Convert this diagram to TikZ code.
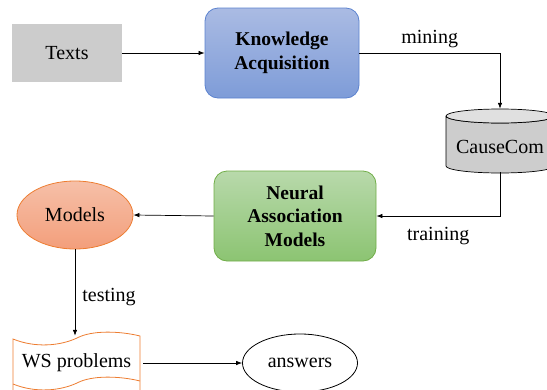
\documentclass[tikz,border=0pt]{standalone}
\usepackage{fontspec}
\newfontfamily\tnr{LiberationSerif}[Extension=.ttf, UprightFont=*-Regular, BoldFont=*-Bold]
\usetikzlibrary{shapes.geometric,arrows.meta}
\definecolor{kaTop}{HTML}{AABBE3}
\definecolor{kaBot}{HTML}{7E9CD8}
\definecolor{kaLine}{HTML}{5B82CF}
\definecolor{nmTop}{HTML}{B8D9AB}
\definecolor{nmBot}{HTML}{8CC472}
\definecolor{nmLine}{HTML}{70AD47}
\definecolor{mdTop}{HTML}{F6C0A8}
\definecolor{mdBot}{HTML}{F39E7B}
\definecolor{orLine}{HTML}{ED7D31}
\definecolor{grayFill}{HTML}{CCCCCC}
\definecolor{dbBody}{HTML}{CDCDCD}
\definecolor{dbTop}{HTML}{E0E0E0}
\tikzset{
  txt/.style={font=\tnr\fontsize{20}{23}\selectfont, text=black},
  btxt/.style={font=\tnr\fontsize{19.5}{23.5}\selectfont\bfseries, align=center, text=black},
  graybox/.style={txt, rectangle, fill=grayFill, minimum width=110pt, minimum height=58pt},
  procbox/.style={btxt, rectangle, rounded corners=13pt, line width=0.8pt},
  arr/.style={-{Latex[length=6pt,width=4.5pt]}, line width=0.7pt},
  conn/.style={line width=0.7pt},
  lbl/.style={txt, inner sep=2pt}
}
\begin{document}
\begin{tikzpicture}[x=1pt,y=-1pt]
\useasboundingbox (0,0) rectangle (547,389);
\clip (0,0) rectangle (547,389);
% nodes
\node[graybox] (texts) at (67,53) {Texts};
\node[procbox, draw=kaLine, top color=kaTop, bottom color=kaBot, minimum width=154pt, minimum height=90pt] (ka) at (282,53) {Knowledge\\Acquisition};
\node[procbox, draw=nmLine, top color=nmTop, bottom color=nmBot, minimum width=162pt, minimum height=90pt] (nam) at (295,216) {Neural\\Association\\Models};
\node[txt, ellipse, draw=orLine, line width=0.8pt, top color=mdTop, bottom color=mdBot, minimum width=116pt, minimum height=68pt, inner sep=0pt] (models) at (75,215) {Models};
\node[txt, ellipse, draw=black, line width=0.8pt, minimum width=115pt, minimum height=58pt, inner sep=0pt] (ans) at (300,363) {answers};
% database cylinder
\node[minimum width=108pt, minimum height=63pt, inner sep=0pt] (db) at (500,140.5) {};
\fill[dbBody, draw=black, line width=0.7pt] (446,116) -- (446,166) arc[start angle=180, end angle=360, x radius=54, y radius=-7] -- (554,116) arc[start angle=0, end angle=-180, x radius=54, y radius=-7];
\draw[fill=dbTop, line width=0.7pt] (500,116) ellipse[x radius=54, y radius=7];
\node[txt] (dbtext) at (500,147) {CauseCom};
% WS problems tape shape
\node[txt, minimum width=127pt, minimum height=54pt, inner sep=0pt] (ws) at (76.5,363) {WS problems};
\begin{scope}[orLine, line width=0.8pt]
\draw (13,395) -- (13,339) .. controls (35,348) and (60,346) .. (77,338) .. controls (92,330) and (120,331) .. (140,336) -- (140,395);
\draw (13,384) .. controls (35,393) and (60,391) .. (77,383) .. controls (92,375) and (120,376) .. (140,381);
\end{scope}
% connectors
\draw[arr] (texts) -- (ka);
\draw[arr] (ka.east) -- node[lbl, above, pos=0.5, yshift=3pt]{mining} (ka.east -| db.north) -- (db.north);
\draw[arr] (db.south) -- (db.south |- nam.east) -- node[lbl, below, pos=0.5, yshift=-9pt]{training} (nam.east);
\draw[arr] (nam.west) -- (models.east);
\draw[arr] (models.south) -- node[lbl, right, pos=0.5, xshift=5pt, yshift=-4pt]{testing} (models.south |- ws.north);
\draw[arr] (ws.east) ++(3,0) -- (ans.west);
\end{tikzpicture}
\end{document}
